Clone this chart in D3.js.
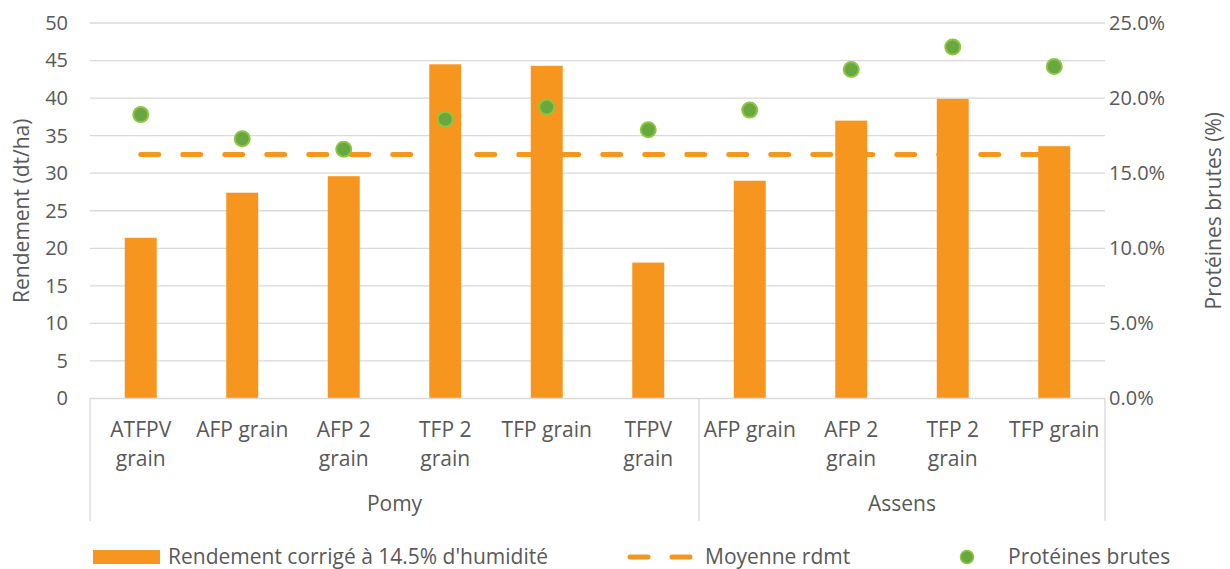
<!DOCTYPE html>
<html lang="fr">
<head>
  <meta charset="UTF-8">
  <title>Rendement et protéines</title>
  <script src="https://d3js.org/d3.v7.min.js"></script>
  <style>
    body {
      margin: 0;
      background: #fff;
    }
    svg text {
      font-family: "Open Sans", sans-serif;
      fill: #595959;
    }
    .grid line {
      stroke: #d9d9d9;
      stroke-width: 1.3px;
    }
  </style>
</head>
<body>
  <svg id="chart"></svg>

  <script>
    // Data
    const groups = ["Pomy", "Pomy", "Pomy", "Pomy", "Pomy", "Pomy", "Assens", "Assens", "Assens", "Assens"];
    const labels = ["ATFPV grain", "AFP grain", "AFP 2 grain", "TFP 2 grain", "TFP grain", "TFPV grain",
                    "AFP grain", "AFP 2 grain", "TFP 2 grain", "TFP grain"];
    // how each tick label wraps on two lines
    const labelLines = [["ATFPV", "grain"], ["AFP grain"], ["AFP 2", "grain"], ["TFP 2", "grain"], ["TFP grain"], ["TFPV", "grain"],
                        ["AFP grain"], ["AFP 2", "grain"], ["TFP 2", "grain"], ["TFP grain"]];
    const rendement = [21.4, 27.4, 29.6, 44.5, 44.3, 18.1, 29.0, 37.0, 39.9, 33.6];
    const moyenne = [32.5, 32.5, 32.5, 32.5, 32.5, 32.5, 32.5, 32.5, 32.5, 32.5];
    const proteines = [0.189, 0.173, 0.166, 0.186, 0.194, 0.179, 0.192, 0.219, 0.234, 0.221];
    const leftTicks = [0, 5, 10, 15, 20, 25, 30, 35, 40, 45, 50];
    const rightTicks = [0, 0.05, 0.10, 0.15, 0.20, 0.25];

    const W = 1230, H = 569;
    const plot = {left: 90, right: 1105, top: 23, bottom: 398.5};
    const orange = "#f7961e";
    const fontSize = 21;
    const tickSize = 20;

    const svg = d3.select("#chart").attr("width", W).attr("height", H);

    const keys = labels.map((d, i) => i);
    const x = d3.scaleBand().domain(keys).range([plot.left, plot.right]).padding(0);
    const yL = d3.scaleLinear().domain([0, 50]).range([plot.bottom, plot.top]);
    const yR = d3.scaleLinear().domain([0, 0.25]).range([plot.bottom, plot.top]);
    const cx = i => x(i) + x.bandwidth() / 2;
    const barW = x.bandwidth() * 0.315;

    // gridlines
    svg.append("g").attr("class", "grid")
      .selectAll("line")
      .data(leftTicks.filter(d => d > 0))
      .join("line")
      .attr("x1", plot.left).attr("x2", plot.right)
      .attr("y1", d => yL(d)).attr("y2", d => yL(d));

    // left axis
    const leftAxis = svg.append("g")
      .attr("transform", `translate(${plot.left},0)`)
      .call(d3.axisLeft(yL).tickValues(leftTicks).tickSize(0).tickPadding(22));
    leftAxis.select(".domain").remove();
    leftAxis.selectAll("text").style("font-size", tickSize + "px");

    // right axis
    const rightAxis = svg.append("g")
      .attr("transform", `translate(${plot.right},0)`)
      .call(d3.axisRight(yR).tickValues(rightTicks).tickFormat(d3.format(".1%")).tickSize(0).tickPadding(4));
    rightAxis.select(".domain").remove();
    rightAxis.selectAll("text").style("font-size", tickSize + "px");

    // average line (behind bars)
    svg.append("path")
      .datum(moyenne)
      .attr("fill", "none")
      .attr("stroke", orange)
      .attr("stroke-width", 5)
      .attr("stroke-linecap", "round")
      .attr("stroke-dasharray", "18,24")
      .attr("d", d3.line().x((d, i) => cx(i)).y(d => yL(d)));

    // bars
    svg.append("g")
      .selectAll("rect")
      .data(rendement)
      .join("rect")
      .attr("x", (d, i) => cx(i) - barW / 2)
      .attr("width", barW)
      .attr("y", d => yL(d))
      .attr("height", d => yL(0) - yL(d))
      .attr("fill", orange);

    // protein points
    svg.append("g")
      .selectAll("circle")
      .data(proteines)
      .join("circle")
      .attr("cx", (d, i) => cx(i))
      .attr("cy", d => yR(d))
      .attr("r", 7.5)
      .attr("fill", "#68a83f")
      .attr("stroke", "#8dc641")
      .attr("stroke-width", 2);

    // category axis box
    const box = svg.append("g").attr("class", "grid");
    box.append("line")
      .attr("x1", plot.left).attr("x2", plot.right)
      .attr("y1", plot.bottom).attr("y2", plot.bottom);
    const groupNames = Array.from(new Set(groups));
    const groupBounds = groupNames.map(g => {
      const idx = keys.filter(i => groups[i] === g);
      return {name: g, x0: x(idx[0]), x1: x(idx[idx.length - 1]) + x.bandwidth()};
    });
    const edges = [groupBounds[0].x0, ...groupBounds.map(g => g.x1)];
    box.selectAll(".sep")
      .data(edges)
      .join("line")
      .attr("class", "sep")
      .attr("x1", d => d).attr("x2", d => d)
      .attr("y1", plot.bottom).attr("y2", 521);

    // category labels
    const catLabels = svg.append("g")
      .selectAll("text")
      .data(keys)
      .join("text")
      .attr("text-anchor", "middle")
      .style("font-size", fontSize + "px");
    catLabels.selectAll("tspan")
      .data(i => labelLines[i].map(t => ({t, i})))
      .join("tspan")
      .attr("x", d => cx(d.i))
      .attr("y", (d, j) => 437 + j * 29)
      .text(d => d.t);

    // group labels
    svg.append("g")
      .selectAll("text")
      .data(groupBounds)
      .join("text")
      .attr("x", d => (d.x0 + d.x1) / 2)
      .attr("y", 511)
      .attr("text-anchor", "middle")
      .style("font-size", fontSize + "px")
      .text(d => d.name);

    // axis titles
    svg.append("text")
      .attr("transform", `translate(29,${(plot.top + plot.bottom) / 2}) rotate(-90)`)
      .attr("text-anchor", "middle")
      .style("font-size", fontSize + "px")
      .text("Rendement (dt/ha)");
    svg.append("text")
      .attr("transform", `translate(1221,${(plot.top + plot.bottom) / 2}) rotate(-90)`)
      .attr("text-anchor", "middle")
      .style("font-size", fontSize + "px")
      .text("Protéines brutes (%)");

    // legend
    const lg = svg.append("g");
    const ly = 557;
    lg.append("rect")
      .attr("x", 93).attr("y", ly - 7).attr("width", 67).attr("height", 14)
      .attr("fill", orange);
    lg.append("text")
      .attr("x", 168).attr("y", ly).attr("dy", "0.35em")
      .style("font-size", fontSize + "px")
      .text("Rendement corrigé à 14.5% d'humidité");
    lg.append("line")
      .attr("x1", 630).attr("x2", 691).attr("y1", ly).attr("y2", ly)
      .attr("stroke", orange).attr("stroke-width", 5)
      .attr("stroke-linecap", "round")
      .attr("stroke-dasharray", "18,24");
    lg.append("text")
      .attr("x", 705).attr("y", ly).attr("dy", "0.35em")
      .style("font-size", fontSize + "px")
      .text("Moyenne rdmt");
    lg.append("circle")
      .attr("cx", 967).attr("cy", ly).attr("r", 6.5)
      .attr("fill", "#68a83f").attr("stroke", "#8dc641").attr("stroke-width", 1.5);
    lg.append("text")
      .attr("x", 1008).attr("y", ly).attr("dy", "0.35em")
      .style("font-size", fontSize + "px")
      .text("Protéines brutes");
  </script>
</body>
</html>
